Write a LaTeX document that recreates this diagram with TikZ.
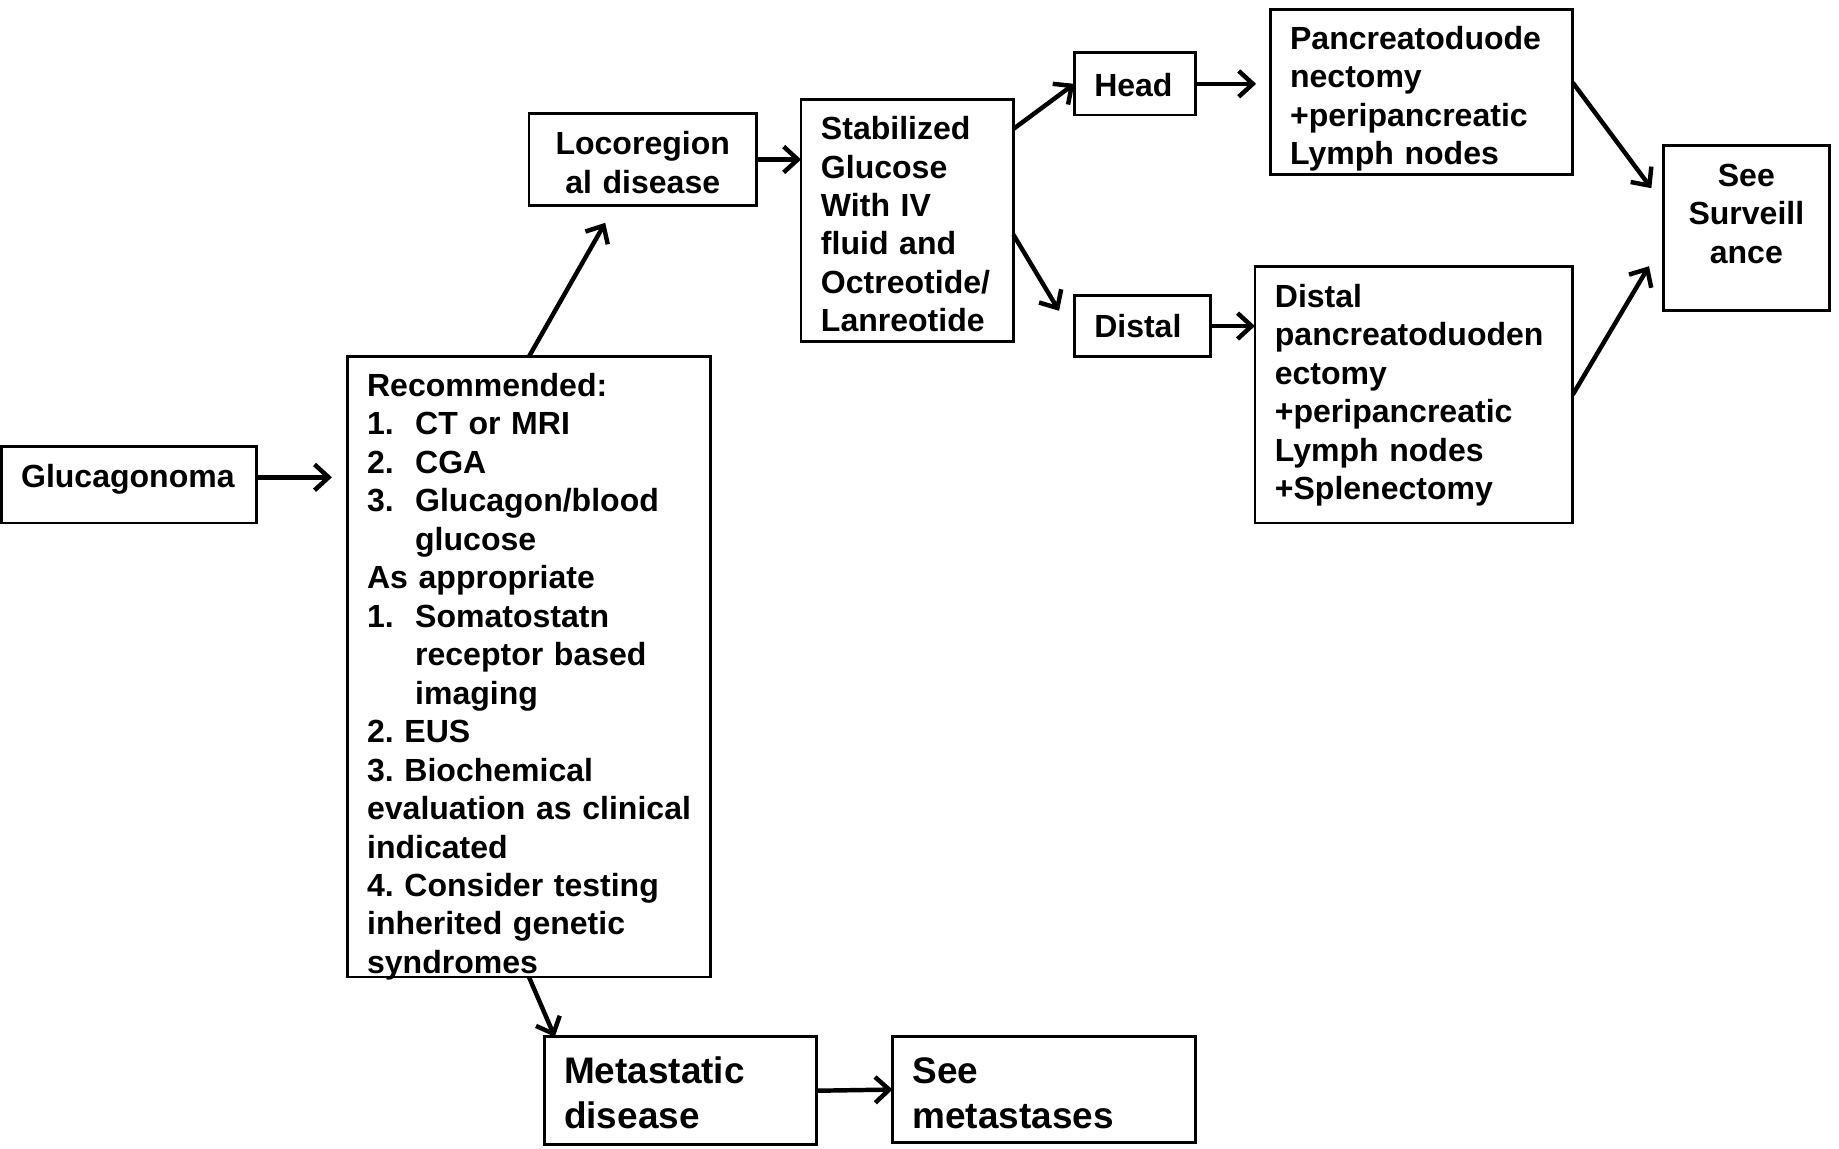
\documentclass[tikz,border=0pt]{standalone}
\usepackage{fontspec}
\setmainfont{Liberation Sans}
\usetikzlibrary{arrows.meta}
\frenchspacing
\newcommand{\bodyfont}{\fontsize{13.65pt}{16.4pt}\selectfont\bfseries}
\newcommand{\bigfont}{\fontsize{15.75pt}{19pt}\selectfont\bfseries}
\newcommand{\itm}[1]{\makebox[20.5pt][l]{#1}}
\newcommand{\cont}{\hspace*{20.5pt}}
\begin{document}
\begin{tikzpicture}[x=0.5pt, y=-0.5pt,
  bx/.style={draw, line width=1.2pt, rectangle, inner ysep=0pt, inner xsep=8.5pt,
    outer sep=0pt, anchor=north west, align=left, font=\bodyfont},
  arr/.style={line width=1.9pt, -{Straight Barb[length=6pt,width=11pt]}}]
\fill[white] (0,0) rectangle (1568,979);
\useasboundingbox (0,0) rectangle (1568,979);

% boxes
\node[bx, text width=92pt, text height=17.5pt, text depth=15pt] (gluc) at (1,381) {Glucagonoma};

\node[bx, text width=138pt, text height=17pt, text depth=247.5pt] (rec) at (296,304)
  {Recommended:\\
   \itm{1.}CT or MRI\\
   \itm{2.}CGA\\
   \itm{3.}Glucagon/blood\\
   \cont glucose\\
   As appropriate\\
   \itm{1.}Somatostatn\\
   \cont receptor based\\
   \cont imaging\\
   2. EUS\\
   3. Biochemical\\
   \mbox{evaluation as clinical}\\
   indicated\\
   4. Consider testing\\
   inherited genetic\\
   syndromes};

\node[bx, align=center, inner xsep=5pt, text width=87pt, text height=17.5pt, text depth=21.5pt] (loco) at (451,97)
  {Locoregion\\al disease};

\node[bx, text width=73.5pt, text height=17pt, text depth=86pt] (stab) at (683,85)
  {Stabilized\\Glucose\\With IV\\fluid and\\Octreotide/\\Lanreotide};

\node[bx, text width=34.5pt, text height=18.5pt, text depth=8pt] (head) at (916,45) {Head};

\node[bx, text width=41pt, text height=18pt, text depth=8pt] (distal) at (916,252) {Distal};

\node[bx, text width=112pt, text height=17pt, text depth=53.5pt] (panc) at (1083,8)
  {Pancreatoduode\\nectomy\\+peripancreatic\\Lymph nodes};

\node[bx, text width=118.5pt, text height=17.5pt, text depth=92pt] (dpanc) at (1070,227)
  {Distal\\pancreatoduoden\\ectomy\\+peripancreatic\\Lymph nodes\\+Splenectomy};

\node[bx, align=center, inner xsep=5pt, text width=61pt, text height=17.5pt, text depth=53pt] (surv) at (1418,124)
  {See\\Surveill\\ance};

\node[bx, font=\bigfont, text width=99pt, text height=20pt, text depth=26pt] (meta) at (464,884)
  {Metastatic\\disease};

\node[bx, font=\bigfont, text width=112pt, text height=20pt, text depth=25pt] (seemeta) at (761,884)
  {See\\metastases};

% connectors
\draw[arr, shorten >=6.5pt] ([yshift=3.25pt]gluc.east) -- ([yshift=3.25pt]gluc.east -| rec.west);
\draw[arr] (rec.north) -- ([xshift=-16pt,yshift=-7.5pt]loco.south);
\draw[arr] (loco.east) -- (loco.east -| stab.west);
\draw[arr] ([yshift=-12.5pt]stab.north east) -- (head.west);
\draw[arr] ([yshift=-6pt]stab.east) -- ([xshift=-6.5pt,yshift=6.5pt]distal.west);
\draw[arr, shorten >=6pt] (head.east) -- (head.east -| panc.west);
\draw[arr] (distal.east) -- (distal.east -| dpanc.west);
\draw[arr] ([yshift=4pt]panc.east) -- ([xshift=-5pt,yshift=17pt]surv.west);
\draw[arr] (dpanc.east) -- ([xshift=-6pt,yshift=-16.25pt]surv.west);
\draw[arr] (rec.south) -- ([xshift=4.5pt]meta.north west);
\draw[arr] (meta.east) -- (seemeta.west);
\end{tikzpicture}
\end{document}
